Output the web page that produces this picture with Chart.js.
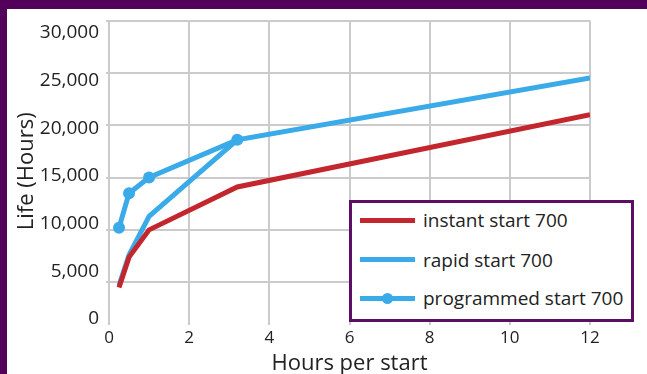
<!DOCTYPE html>
<html>
<head>
<meta charset="utf-8">
<script src="https://cdn.jsdelivr.net/npm/chart.js@4/dist/chart.umd.min.js"></script>
<style>
  html, body { margin: 0; padding: 0; }
  body { width: 647px; height: 374px; background: #53005a; position: relative; overflow: hidden; }
  #frame { position: absolute; left: 7px; top: 9px; width: 640px; height: 365px; background: #ffffff; }
  #c { position: absolute; left: 0; top: 0; }
  #legend { position: absolute; left: 342px; top: 191px; width: 285px; height: 122px; box-sizing: border-box;
            border: 3px solid #5b0e63; background: #ffffff; font-family: "Open Sans", sans-serif; font-size: 19px; color: #222; }
  .item { position: absolute; left: 0; height: 30px; width: 100%; }
  .swatch { position: absolute; left: 8px; top: 12.5px; width: 55px; height: 5px; }
  .dot { position: absolute; left: 22px; top: -3px; width: 11px; height: 11px; border-radius: 50%; }
  .lbl { position: absolute; left: 71px; top: 0; line-height: 30px; white-space: nowrap; }
</style>
</head>
<body>
<div id="frame">
  <canvas id="c" width="640" height="365"></canvas>
  <div id="legend"></div>
</div>
<script>
// ---- data ----
const seriesNames = ["instant start 700", "rapid start 700", "programmed start 700"];
const seriesColors = ["#c4262e", "#3aabe8", "#3aabe8"];
const seriesMarkers = [false, false, true];

const instantHours = [0.25, 0.5, 1, 3.2, 12];
const instantLife  = [4500, 7400, 10000, 14100, 21000];

const rapidHours = [0.25, 0.5, 1, 3.2, 12];
const rapidLife  = [4700, 7600, 11300, 18600, 24500];

const programmedHours = [0.25, 0.5, 1, 3.2];
const programmedLife  = [10200, 13500, 15000, 18600];

const xTickValues = [0, 2, 4, 6, 8, 10, 12];
const yGridValues = [5000, 10000, 15000, 20000, 25000, 30000];
const yLabelValues = [0, 5000, 10000, 15000, 20000, 25000, 30000];

// ---- build ----
const allHours = [instantHours, rapidHours, programmedHours];
const allLife = [instantLife, rapidLife, programmedLife];

const datasets = seriesNames.map((name, i) => ({
  label: name,
  data: allHours[i].map((h, k) => ({ x: h, y: allLife[i][k] })),
  borderColor: seriesColors[i],
  backgroundColor: seriesColors[i],
  borderWidth: 5,
  borderCapStyle: 'butt',
  borderJoinStyle: 'miter',
  tension: 0,
  fill: false,
  pointRadius: seriesMarkers[i] ? 6 : 0,
  pointHoverRadius: seriesMarkers[i] ? 6 : 0,
  pointBorderWidth: 0,
  pointBackgroundColor: seriesColors[i],
  yAxisID: 'y'
}));

const gridColor = '#cbcbcb';
const fontFam = '"Open Sans", sans-serif';
const noPad = s => { s.paddingTop = 0; s.paddingBottom = 0; s.paddingLeft = 0; s.paddingRight = 0; };

new Chart(document.getElementById('c'), {
  type: 'line',
  data: { datasets },
  options: {
    responsive: false,
    animation: false,
    devicePixelRatio: 1,
    layout: { padding: { top: 11.5, right: 57, left: 0, bottom: 0 } },
    plugins: { legend: { display: false }, tooltip: { enabled: false } },
    scales: {
      x: {
        type: 'linear',
        min: 0, max: 12,
        afterBuildTicks: s => { s.ticks = xTickValues.map(v => ({ value: v })); },
        afterFit: s => { s.height = 52; noPad(s); },
        grid: { color: gridColor, lineWidth: 2, tickLength: 3, drawTicks: true },
        border: { display: false },
        ticks: { color: '#222', font: { family: fontFam, size: 17 }, padding: 3, maxRotation: 0 },
        title: { display: true, text: 'Hours per start', color: '#222', font: { family: fontFam, size: 22 }, padding: { top: 0, bottom: -3 } }
      },
      y: {
        type: 'linear',
        position: 'left',
        weight: 0,
        min: 1200, max: 30000,
        afterBuildTicks: s => { s.ticks = yGridValues.map(v => ({ value: v })); },
        afterFit: s => { s.width = 0; noPad(s); },
        grid: { color: gridColor, lineWidth: 2, tickLength: 3, drawTicks: true },
        border: { display: false },
        ticks: { display: false }
      },
      y2: {
        type: 'linear',
        position: 'left',
        weight: 1,
        min: -314, max: 31311,
        afterBuildTicks: s => { s.ticks = yLabelValues.map(v => ({ value: v })); },
        afterFit: s => { s.width = 102; noPad(s); },
        grid: { display: false, drawTicks: false },
        border: { display: false },
        ticks: { color: '#222', font: { family: fontFam, size: 19 }, padding: 10,
                 callback: v => Number(v).toLocaleString('en-US') },
        title: { display: true, text: 'Life (Hours)', color: '#222', font: { family: fontFam, size: 22 }, padding: { top: 7, bottom: 0 } }
      }
    }
  }
});

// ---- HTML legend built from the series arrays ----
const legend = document.getElementById('legend');
const rowCenters = [17, 56.5, 95];
seriesNames.forEach((name, i) => {
  const item = document.createElement('div');
  item.className = 'item';
  item.style.top = (rowCenters[i] - 15) + 'px';
  const sw = document.createElement('div');
  sw.className = 'swatch';
  sw.style.background = seriesColors[i];
  if (seriesMarkers[i]) {
    const d = document.createElement('div');
    d.className = 'dot';
    d.style.background = seriesColors[i];
    sw.appendChild(d);
  }
  const lbl = document.createElement('span');
  lbl.className = 'lbl';
  lbl.textContent = name;
  item.appendChild(sw);
  item.appendChild(lbl);
  legend.appendChild(item);
});
</script>
</body>
</html>
